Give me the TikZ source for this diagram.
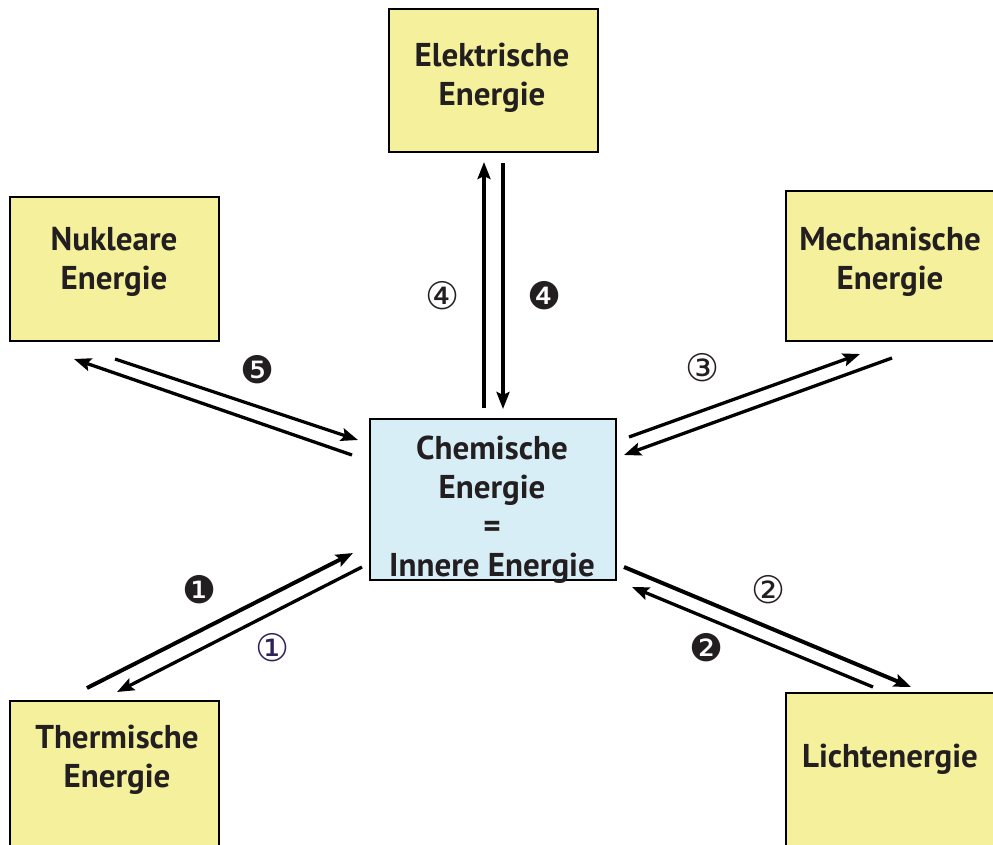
\documentclass[tikz,border=0pt]{standalone}
\usepackage{fontspec}
\setmainfont{PT Sans}
\newfontfamily\symfont{DejaVu Sans}
\usetikzlibrary{arrows.meta}
\definecolor{boxyellow}{HTML}{F4F09C}
\definecolor{boxblue}{HTML}{D7EEF6}
\definecolor{txtgray}{HTML}{231F20}
\definecolor{numpurple}{HTML}{2E2159}
\newcommand{\cn}[1]{{\symfont\fontsize{38}{38}\selectfont #1}}
\tikzset{
  ebox/.style={draw=black,line width=2pt,fill=boxyellow,inner sep=0pt},
  cbox/.style={ebox,fill=boxblue},
  etext/.style={text=txtgray,align=center,inner sep=0pt,
    font=\bfseries\fontsize{33}{39}\selectfont},
  flow/.style={line width=3.3pt,-{Stealth[length=17pt,width=13pt,inset=3pt]}},
  flowthick/.style={flow,line width=4pt}
}

\begin{document}
\begin{tikzpicture}[x=1pt,y=-1pt]
  \useasboundingbox (0,0) rectangle (993,844);
  \clip (0,0) rectangle (993,844);
  \node[ebox,minimum width=209pt,minimum height=143pt] (elek) at (493.5, 80.5) {};
  \node[ebox,minimum width=209pt,minimum height=144pt] (nukl) at (114.5,269.0) {};
  \node[ebox,minimum width=220pt,minimum height=150pt] (mech) at (896.0,266.0) {};
  \node[ebox,minimum width=209pt,minimum height=160pt] (therm) at (114.5,781.0) {};
  \node[ebox,minimum width=220pt,minimum height=160pt] (licht) at (896.0,773.0) {};
  \node[cbox,minimum width=246pt,minimum height=161pt] (chem) at (493.0,499.5) {};

  \node[etext] (elekt)  at (492.0, 78.0) {Elektrische\\Energie};
  \node[etext] (nuklt)  at (114.0,262.0) {Nukleare\\Energie};
  \node[etext] (mecht)  at (890.0,262.0) {Mechanische\\Energie};
  \node[etext] (chemt)  at (492.0,510.0) {Chemische\\Energie\\=\\Innere Energie};
  \node[etext] (thermt) at (117.0,760.0) {Thermische\\Energie};
  \node[etext] (lichtt) at (890.0,759.0) {Lichtenergie};

  \coordinate (e1) at (484,408); \coordinate (e2) at (484,162);
  \coordinate (e3) at (503,163); \coordinate (e4) at (503,409);
  \coordinate (n1) at (352,455); \coordinate (n2) at ( 74,359);
  \coordinate (n3) at (115,359); \coordinate (n4) at (358,440);
  \coordinate (m1) at (629,437); \coordinate (m2) at (860,354);
  \coordinate (m3) at (892,358); \coordinate (m4) at (624,455);
  \coordinate (t1) at ( 87,688); \coordinate (t2) at (353,553);
  \coordinate (t3) at (362,567); \coordinate (t4) at (117,692);
  \coordinate (l1) at (624,567); \coordinate (l2) at (911,687);
  \coordinate (l3) at (873,687); \coordinate (l4) at (632,587);

  \draw[flow]      (e1) -- (e2);
  \draw[flow]      (e3) -- (e4);
  \draw[flow]      (n1) -- (n2);
  \draw[flow]      (n3) -- (n4);
  \draw[flow]      (m1) -- (m2);
  \draw[flow]      (m3) -- (m4);
  \draw[flowthick] (t1) -- (t2);
  \draw[flow]      (t3) -- (t4);
  \draw[flowthick] (l1) -- (l2);
  \draw[flow]      (l3) -- (l4);

  \node[text=txtgray]   (k4) at (443,296) {\cn{④}};
  \node[text=txtgray]   (d4) at (545,296) {\cn{❹}};
  \node[text=txtgray]   (d5) at (258,370) {\cn{❺}};
  \node[text=txtgray]   (k3) at (703,368) {\cn{③}};
  \node[text=txtgray]   (d1) at (200,590) {\cn{❶}};
  \node[text=numpurple] (k1) at (273,648) {\cn{①}};
  \node[text=txtgray]   (k2) at (769,590) {\cn{②}};
  \node[text=txtgray]   (d2) at (707,648) {\cn{❷}};
\end{tikzpicture}
\end{document}
